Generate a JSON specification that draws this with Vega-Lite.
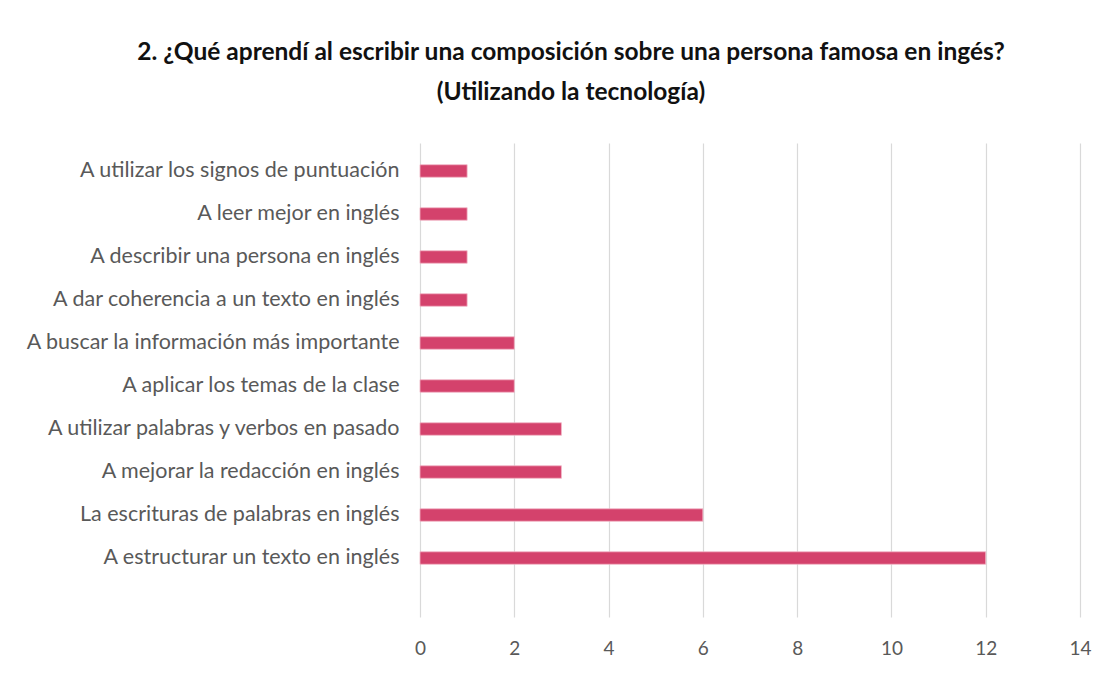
{
  "$schema": "https://vega.github.io/schema/vega-lite/v6.json",
  "autosize": {"type": "none"},
  "width": 660,
  "height": 474,
  "padding": {"left": 420, "top": 143, "right": 25, "bottom": 60},
  "background": "white",
  "title": {
    "text": ["2. ¿Qué aprendí al escribir una composición sobre una persona famosa en ingés?", "(Utilizando la tecnología)"],
    "font": "Lato",
    "fontSize": 24.5,
    "fontWeight": "bold",
    "color": "#111111",
    "anchor": "middle",
    "frame": "group",
    "dx": -179,
    "offset": 38,
    "lineHeight": 40
  },
  "data": {
    "values": [
      {"respuesta": "A utilizar los signos de puntuación ", "n": 1},
      {"respuesta": "A leer mejor en inglés", "n": 1},
      {"respuesta": "A describir una persona en inglés", "n": 1},
      {"respuesta": "A dar coherencia a un texto en inglés", "n": 1},
      {"respuesta": "A buscar la información más importante", "n": 2},
      {"respuesta": "A aplicar los temas de la clase", "n": 2},
      {"respuesta": "A utilizar palabras y verbos en pasado", "n": 3},
      {"respuesta": "A mejorar la redacción en inglés", "n": 3},
      {"respuesta": "La escrituras de palabras en inglés", "n": 6},
      {"respuesta": "A estructurar un texto en inglés", "n": 12}
    ]
  },
  "mark": {"type": "bar", "color": "#D4426C", "stroke": "#f3b8c8", "strokeWidth": 0.8},
  "encoding": {
    "y": {
      "field": "respuesta",
      "type": "nominal",
      "sort": null,
      "title": null,
      "scale": {"paddingInner": 0.71, "paddingOuter": 0.866, "align": 0.292},
      "axis": {
        "domain": false,
        "ticks": false,
        "labelFont": "Lato",
        "labelFontSize": 21.5,
        "labelColor": "#595959",
        "labelPadding": 21,
        "labelLimit": 500
      }
    },
    "x": {
      "field": "n",
      "type": "quantitative",
      "title": null,
      "scale": {"domain": [0, 14], "nice": false},
      "axis": {
        "values": [0, 2, 4, 6, 8, 10, 12, 14],
        "domain": false,
        "ticks": false,
        "grid": true,
        "gridColor": "#d9d9d9",
        "gridWidth": 1.2,
        "labelFlush": false,
        "labelFont": "Lato",
        "labelFontSize": 19,
        "labelColor": "#595959",
        "labelPadding": 22
      }
    }
  },
  "config": {"view": {"stroke": null}}
}
